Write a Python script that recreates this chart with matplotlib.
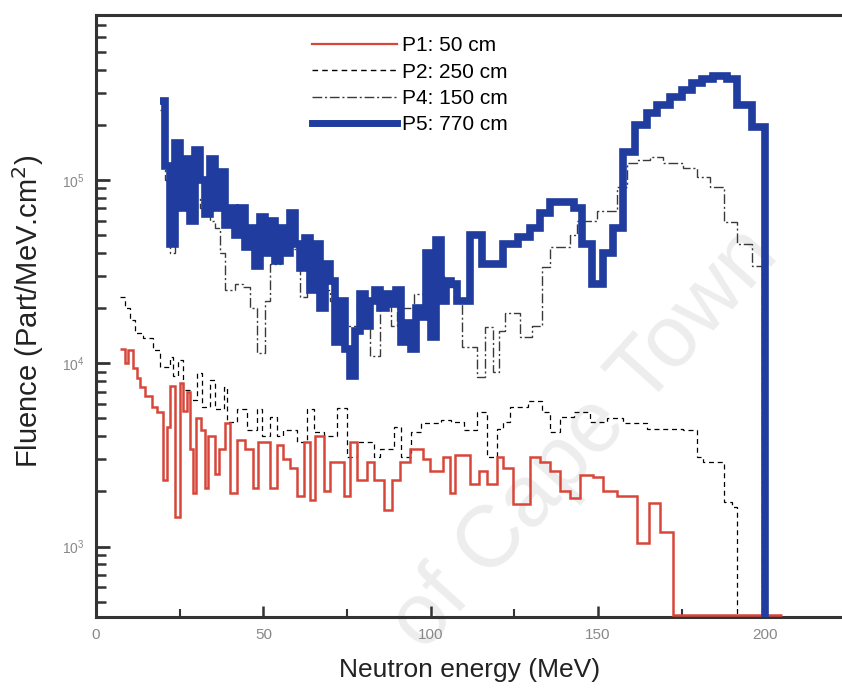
import matplotlib
matplotlib.use('Agg')
import matplotlib.pyplot as plt
from matplotlib.ticker import LogLocator, MultipleLocator, NullFormatter
from matplotlib.lines import Line2D

# ---------------- data (energy bin edges in MeV, fluence per bin) ----------------
p1_edges = [7.2, 8.7, 9.7, 11.2, 12.2, 13.2,
            14.6, 16.6, 18.1, 20.1, 21.1, 22.1,
            23.6, 25.1, 26.1, 27.1, 28.0, 29.0,
            30.0, 31.3, 32.6, 33.6, 35.6, 36.6,
            38.6, 40.0, 42.0, 44.5, 47.0, 48.5,
            52.0, 54.0, 56.0, 58.0, 60.0, 62.0,
            64.0, 65.5, 68.0, 70.0, 74.0, 76.0,
            78.0, 81.0, 83.0, 86.0, 88.3, 90.8,
            93.8, 97.8, 99.8, 103.8, 105.8, 107.3,
            111.8, 114.3, 116.8, 119.7, 121.7, 124.7,
            129.7, 132.7, 135.7, 138.7, 141.7, 144.6,
            148.6, 151.6, 155.6, 161.6, 165.1, 168.5,
            172.5, 205.0]
p1_vals = [1.2e4, 1.0e4, 1.18e4, 9.4e3, 8.3e3, 7.4e3,
           6.6e3, 5.8e3, 5.45e3, 2.3e3, 4.5e3, 7.5e3,
           1.45e3, 7.8e3, 5.5e3, 7.0e3, 3.4e3, 1.95e3,
           5.0e3, 4.3e3, 2.1e3, 4.0e3, 2.5e3, 3.4e3,
           4.7e3, 1.97e3, 3.8e3, 3.4e3, 2.1e3, 3.7e3,
           2.1e3, 3.6e3, 3.0e3, 2.7e3, 1.9e3, 3.7e3,
           1.8e3, 4.0e3, 2.0e3, 2.9e3, 1.9e3, 3.7e3,
           2.3e3, 2.9e3, 2.3e3, 1.58e3, 2.3e3, 2.9e3,
           3.4e3, 3.0e3, 2.6e3, 3.1e3, 1.97e3, 3.15e3,
           2.2e3, 2.6e3, 2.2e3, 3.1e3, 2.7e3, 1.7e3,
           3.1e3, 2.9e3, 2.6e3, 2.0e3, 1.85e3, 2.47e3,
           2.4e3, 2.0e3, 1.9e3, 1.05e3, 1.73e3, 1.2e3,
           425]

p2_edges = [7.2, 8.7, 10.2, 11.7, 14.1, 17.1,
            19.1, 22.1, 23.1, 24.6, 26.1, 28.1,
            30.1, 31.6, 34.1, 35.6, 38.1, 39.1,
            42.0, 45.0, 48.0, 49.5, 52.0, 54.0,
            56.0, 60.0, 63.0, 65.0, 68.0, 72.0,
            75.0, 78.0, 83.0, 85.0, 89.0, 91.0,
            94.0, 97.0, 103.0, 106.0, 109.8, 113.8,
            116.8, 119.7, 121.7, 123.7, 129.2, 133.2,
            135.7, 138.7, 142.7, 147.6, 152.6, 157.6,
            164.6, 175.5, 179.5, 181.5, 187.5, 190.0,
            191.5, 200.0]
p2_vals = [2.3e4, 2.0e4, 1.72e4, 1.47e4, 1.37e4, 1.18e4,
           9.6e3, 1.08e4, 8.5e3, 1.04e4, 7.15e3, 6.3e3,
           8.9e3, 5.8e3, 8.1e3, 5.6e3, 7.4e3, 4.8e3,
           5.6e3, 4.3e3, 5.6e3, 4.0e3, 5.1e3, 4.0e3,
           4.3e3, 3.7e3, 5.6e3, 4.2e3, 4.0e3, 5.7e3,
           3.1e3, 3.7e3, 3.1e3, 3.4e3, 4.5e3, 3.1e3,
           4.2e3, 4.7e3, 4.9e3, 4.8e3, 4.3e3, 5.45e3,
           3.1e3, 4.4e3, 4.8e3, 5.8e3, 6.2e3, 5.45e3,
           4.2e3, 5.1e3, 5.45e3, 4.8e3, 5.0e3, 4.7e3,
           4.37e3, 4.3e3, 3.1e3, 2.9e3, 1.76e3, 1.65e3,
           1.0]

p4_edges = [19.0, 20.5, 22.0, 23.5, 25.0, 26.5,
            28.0, 29.5, 31.0, 32.5, 34.0, 35.5,
            37.0, 38.5, 41.5, 44.0, 46.0, 48.0,
            50.5, 52.0, 55.0, 58.0, 61.0, 63.0,
            66.0, 70.0, 74.0, 78.0, 82.0, 85.0,
            88.0, 90.0, 95.0, 100.0, 104.0, 107.0,
            109.3, 113.8, 116.3, 118.5, 120.5, 122.2,
            126.7, 130.2, 133.2, 135.7, 141.7, 143.6,
            149.6, 155.6, 158.6, 161.6, 165.6, 169.5,
            175.5, 179.5, 183.5, 187.5, 191.5, 196.0,
            199.0, 205.0]
p4_vals = [2.4e5, 1.0e5, 4.0e4, 1.2e5, 8.0e4, 9.0e4,
           7.0e4, 8.0e4, 7.0e4, 6.5e4, 6.0e4, 5.5e4,
           4.0e4, 2.5e4, 2.7e4, 2.6e4, 2.0e4, 1.14e4,
           2.2e4, 3.5e4, 4.0e4, 4.2e4, 2.3e4, 3.0e4,
           2.5e4, 2.2e4, 1.6e4, 2.2e4, 1.1e4, 2.2e4,
           1.6e4, 2.0e4, 2.4e4, 3.0e4, 2.6e4, 2.2e4,
           1.23e4, 8.4e3, 1.58e4, 9.0e3, 1.5e4, 1.88e4,
           1.4e4, 1.6e4, 3.35e4, 4.3e4, 5.0e4, 6.0e4,
           6.8e4, 9.2e4, 1.24e5, 1.29e5, 1.33e5, 1.24e5,
           1.16e5, 1.04e5, 9.2e4, 5.9e4, 4.5e4, 3.4e4,
           1.0]

p5_edges = [19.0, 20.5, 22.0, 23.5, 25.0, 26.5,
            28.0, 29.5, 31.0, 32.5, 34.0, 35.5,
            37.0, 38.5, 40.0, 41.5, 43.0, 44.5,
            46.0, 47.5, 49.0, 50.5, 52.0, 53.5,
            55.0, 56.5, 58.0, 59.5, 61.0, 62.5,
            64.0, 65.5, 67.0, 68.5, 70.0, 71.5,
            73.0, 74.5, 76.0, 77.5, 79.0, 80.5,
            82.0, 83.5, 85.0, 86.5, 88.0, 89.5,
            91.0, 92.5, 94.0, 95.5, 97.0, 98.5,
            100.0, 101.5, 103.0, 104.5, 106.0, 107.8,
            111.8, 115.3, 121.7, 126.2, 129.7, 132.7,
            135.7, 142.7, 145.1, 148.1, 151.6, 154.6,
            157.6, 161.1, 164.6, 167.6, 171.5, 175.0,
            178.0, 181.0, 184.3, 188.5, 191.5, 196.0,
            200.0, 206.0]
p5_vals = [2.7e5, 1.2e5, 4.5e4, 1.6e5, 7.0e4, 1.3e5,
           6.0e4, 1.45e5, 1.0e5, 6.5e4, 1.3e5, 7.0e4,
           1.1e5, 5.7e4, 7.0e4, 5.0e4, 7.0e4, 4.3e4,
           5.5e4, 3.4e4, 6.3e4, 4.0e4, 6.0e4, 3.6e4,
           5.5e4, 4.0e4, 6.6e4, 4.5e4, 3.3e4, 4.8e4,
           2.5e4, 4.5e4, 2.0e4, 3.5e4, 2.8e4, 1.3e4,
           2.2e4, 1.2e4, 8.5e3, 1.5e4, 2.4e4, 1.6e4,
           2.2e4, 2.5e4, 2.0e4, 2.4e4, 2.1e4, 2.5e4,
           1.3e4, 1.66e4, 1.2e4, 2.0e4, 1.8e4, 4.0e4,
           1.4e4, 4.7e4, 2.2e4, 2.8e4, 2.7e4, 2.2e4,
           5.0e4, 3.5e4, 4.5e4, 4.9e4, 5.5e4, 6.6e4,
           7.6e4, 7.0e4, 4.5e4, 2.7e4, 4.0e4, 5.5e4,
           1.42e5, 2.0e5, 2.32e5, 2.57e5, 2.83e5, 3.1e5,
           3.4e5, 3.55e5, 3.7e5, 3.55e5, 2.57e5, 1.95e5,
           1.0]

labels = ["P1: 50 cm", "P2: 250 cm", "P4: 150 cm", "P5: 770 cm"]
x_ticks = [0, 50, 100, 150, 200]

# ---------------- styling ----------------
plt.rcParams['font.family'] = ['Liberation Sans', 'DejaVu Sans']
RED = '#d8463a'
BLUE = '#1f3c9e'
GRAY = '#3a3a3a'

fig = plt.figure(figsize=(8.42, 6.92), dpi=100)
fig.text(0.695, 0.365, 'of Cape Town', rotation=48, fontsize=63,
         color='#ededed', ha='center', va='center', zorder=-1)

ax = fig.add_axes([96/842, 75/692, (848-96)/842, (617-15)/692])
ax.set_facecolor('none')

ax.stairs(p1_vals, p1_edges, baseline=None, color=RED, lw=1.8, zorder=3)
ax.stairs(p2_vals, p2_edges, baseline=None, color='black', lw=0.9,
          linestyle=(0, (4, 3)), zorder=2)
ax.stairs(p4_vals, p4_edges, baseline=None, color=GRAY, lw=1.0,
          linestyle=(0, (7, 2, 1.5, 2)), zorder=2)
ax.stairs(p5_vals, p5_edges, baseline=None, color=BLUE, lw=5.5, zorder=4)

ax.set_yscale('log')
ax.set_xlim(0, (848-96)/3.347)
ax.set_ylim(413, 7.95e5)

ax.xaxis.set_major_locator(plt.FixedLocator(x_ticks))
ax.xaxis.set_minor_locator(MultipleLocator(25))
ax.yaxis.set_major_locator(LogLocator(base=10, numticks=10))
ax.yaxis.set_minor_locator(LogLocator(base=10, subs=range(2, 10), numticks=20))
ax.yaxis.set_minor_formatter(NullFormatter())

ax.tick_params(axis='both', which='both', direction='in', top=False, right=False,
               color='#333333')
ax.tick_params(axis='y', which='major', length=10, width=2, labelsize=10,
               labelcolor='#888888', pad=8)
ax.tick_params(axis='y', which='minor', length=7, width=1.8)
ax.tick_params(axis='x', which='major', length=8, width=1.8, labelsize=11,
               labelcolor='#888888', pad=8)
ax.tick_params(axis='x', which='minor', length=6, width=1.5)

for s in ['left', 'bottom', 'top']:
    ax.spines[s].set_color('#333333')
    ax.spines[s].set_linewidth(2.2)
ax.spines['right'].set_visible(False)

ax.set_xlabel('Neutron energy (MeV)', fontsize=19, color='#222222')
ax.set_ylabel('Fluence (Part/MeV.cm$^2$)', fontsize=21, color='#222222')
ax.xaxis.set_label_coords((470 - 96) / 752, (617 - 658) / 602)
ax.yaxis.set_label_coords((46 - 96) / 752, (617 - 311) / 602)

handles = [Line2D([], [], color=RED, lw=1.6),
           Line2D([], [], color='black', lw=1.0, linestyle=(0, (4, 3))),
           Line2D([], [], color=GRAY, lw=1.0, linestyle=(0, (7, 2, 1.5, 2))),
           Line2D([], [], color=BLUE, lw=5)]
ax.legend(handles, labels, loc='upper left', bbox_to_anchor=(312/842, 1 - 36/692),
          bbox_transform=fig.transFigure, frameon=False, fontsize=15,
          handlelength=4.1, handletextpad=0.2, labelspacing=0.36, borderpad=0,
          borderaxespad=0)

fig.savefig('out.png', dpi=100)
